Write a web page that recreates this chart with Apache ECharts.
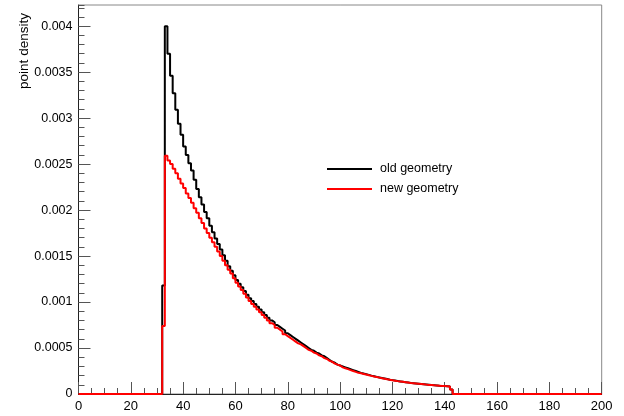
<!DOCTYPE html>
<html>
<head>
<meta charset="utf-8">
<script src="https://cdn.jsdelivr.net/npm/echarts@6/dist/echarts.min.js"></script>
<style>html,body{margin:0;padding:0;background:#fff}#c{width:624px;height:416px}</style>
</head>
<body>
<div id="c"></div>
<script>
// Histogram: bins of width 1, first bin starts at 32
const firstBin = 32;
const binWidth = 1;
const xTickLabels = ["0","20","40","60","80","100","120","140","160","180","200"];
const seriesNames = ["old geometry", "new geometry"];
const oldGeometry = [
  0.00118, 0.00400, 0.00370, 0.00346, 0.00327, 0.00309, 0.00294, 0.00282, 0.00269, 0.00260,
  0.00251, 0.00243, 0.00233, 0.00223, 0.00214, 0.00206, 0.00198, 0.00191, 0.00183, 0.00176,
  0.00169, 0.00163, 0.00157, 0.00151, 0.00145, 0.00139, 0.00134, 0.00129, 0.00124, 0.00120,
  0.00116, 0.00112, 0.00108, 0.00104, 0.00101, 0.00098, 0.00095, 0.00092, 0.00089, 0.00086,
  0.00083, 0.00080, 0.00078, 0.00075, 0.00073, 0.00071, 0.00069, 0.00066, 0.00064, 0.00062,
  0.00060, 0.00058, 0.00056, 0.00054, 0.00052, 0.00050, 0.00048, 0.00047, 0.00045, 0.00044,
  0.00042, 0.00041, 0.00039, 0.00037, 0.00035, 0.00034, 0.00032, 0.00031, 0.00030, 0.00029,
  0.00028, 0.00027, 0.00026, 0.00025, 0.00024, 0.00023, 0.000222, 0.000215, 0.000208, 0.000200,
  0.000193, 0.000186, 0.000180, 0.000174, 0.000168, 0.000162, 0.000156, 0.000151, 0.000146, 0.000141,
  0.000137, 0.000133, 0.000129, 0.000125, 0.000121, 0.000118, 0.000115, 0.000112, 0.000109, 0.000106,
  0.000103, 0.000100, 0.000097, 0.000095, 0.000093, 0.000090, 0.000088, 0.000086, 0.000084, 0.000082,
  0.000050
];
const newGeometry = [
  0.00074, 0.00259, 0.00254, 0.00250, 0.00245, 0.00240, 0.00234, 0.00229, 0.00224, 0.00218,
  0.00213, 0.00208, 0.00202, 0.00197, 0.00191, 0.00186, 0.00180, 0.00175, 0.00170, 0.00165,
  0.00160, 0.00155, 0.00150, 0.00145, 0.00140, 0.00135, 0.00131, 0.00126, 0.00121, 0.00117,
  0.00113, 0.00109, 0.00105, 0.00101, 0.00098, 0.00095, 0.00092, 0.00089, 0.00086, 0.00083,
  0.00080, 0.00077, 0.00075, 0.00072, 0.00070, 0.00068, 0.00065, 0.00063, 0.00061, 0.00059,
  0.00057, 0.00055, 0.00054, 0.00052, 0.00050, 0.00048, 0.00047, 0.00045, 0.00044, 0.00042,
  0.00041, 0.00039, 0.00038, 0.00036, 0.00035, 0.00033, 0.00032, 0.00031, 0.00029, 0.00028,
  0.00027, 0.00026, 0.00025, 0.00024, 0.00023, 0.000225, 0.000218, 0.000211, 0.000204, 0.000197,
  0.000190, 0.000184, 0.000178, 0.000172, 0.000166, 0.000160, 0.000155, 0.000150, 0.000145, 0.000140,
  0.000136, 0.000132, 0.000128, 0.000124, 0.000120, 0.000117, 0.000114, 0.000111, 0.000108, 0.000105,
  0.000102, 0.000099, 0.000097, 0.000094, 0.000092, 0.000090, 0.000088, 0.000086, 0.000084, 0.000082,
  0.000050
];
const xMin = 0, xMax = 200, yMin = 0, yMax = 0.00423;

function toSteps(vals) {
  const pts = [[xMin, 0]];
  vals.forEach((v, i) => pts.push([firstBin + i * binWidth, v]));
  pts.push([firstBin + vals.length * binWidth, 0]);
  pts.push([xMax, 0]);
  return pts;
}

const FONT = '"Liberation Sans Narrow", "Arial Narrow", "Liberation Sans", Arial, sans-serif';
const chart = echarts.init(document.getElementById('c'), null, {renderer: 'canvas'});
chart.setOption({
  animation: false,
  backgroundColor: '#fff',
  grid: {left: 78.5, right: 22.3, top: 5, bottom: 22, show: true, borderColor: '#888', borderWidth: 1, backgroundColor: 'transparent'},
  legend: {
    orient: 'vertical', left: 327, top: 162, padding: 0, itemWidth: 45, itemHeight: 2, itemGap: 6,
    icon: 'rect',
    textStyle: {fontFamily: FONT, fontSize: 12.5, color: '#000', padding: [0, 0, 0, 3], lineHeight: 14},
    data: seriesNames
  },
  xAxis: {
    type: 'value', min: xMin, max: xMax, interval: 20,
    axisLine: {lineStyle: {color: '#222', width: 1}},
    axisTick: {inside: true, length: 12, lineStyle: {color: '#555'}},
    minorTick: {show: true, splitNumber: 4, length: 6, lineStyle: {color: '#555'}},
    splitLine: {show: false},
    axisLabel: {margin: 6, fontFamily: FONT, fontSize: 13, color: '#000',
      formatter: (v) => xTickLabels[Math.round(v / 20)] || ''}
  },
  yAxis: [{
    type: 'value', min: yMin, max: yMax, interval: 0.0005,
    axisLine: {show: true, lineStyle: {color: '#222', width: 1}},
    axisTick: {show: true, inside: true, length: 12, lineStyle: {color: '#555'}},
    splitLine: {show: false},
    axisLabel: {margin: 6, fontFamily: FONT, fontSize: 12.5, color: '#000', showMaxLabel: false,
      formatter: (v) => String(+v.toFixed(4))}
  }, {
    type: 'value', min: yMin, max: yMax, interval: 0.0001, position: 'left',
    axisLine: {show: false},
    axisTick: {show: true, inside: true, length: 6, lineStyle: {color: '#555'}},
    splitLine: {show: false},
    axisLabel: {show: false}
  }],
  graphic: [{
    type: 'text', x: 24, y: 51, rotation: Math.PI / 2,
    style: {text: 'point density', fontFamily: FONT, fontSize: 13.5, fill: '#000', align: 'center', verticalAlign: 'middle'}
  }],
  series: [{
    name: seriesNames[0], type: 'line', step: 'end', showSymbol: false, yAxisIndex: 0,
    data: toSteps(oldGeometry), lineStyle: {color: '#000', width: 2}, itemStyle: {color: '#000'}
  }, {
    name: seriesNames[1], type: 'line', step: 'end', showSymbol: false, yAxisIndex: 0,
    data: toSteps(newGeometry), lineStyle: {color: '#ff0000', width: 2}, itemStyle: {color: '#ff0000'}
  }]
});
</script>
</body>
</html>
